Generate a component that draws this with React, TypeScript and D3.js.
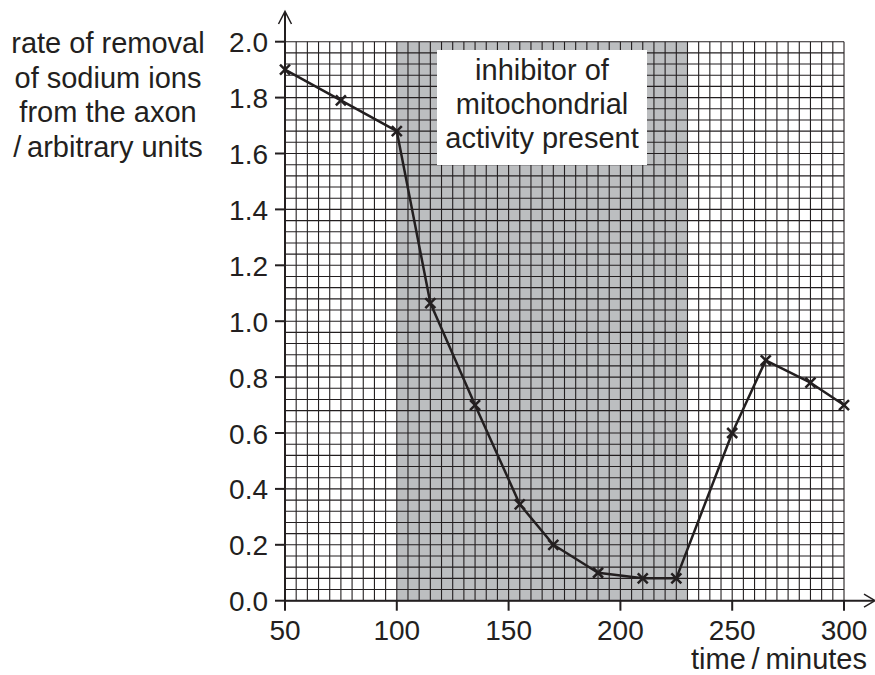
import React from "react";
import * as d3 from "d3";

const timeMin = [50, 75, 100, 115, 135, 155, 170, 190, 210, 225, 250, 265, 285, 300];
const rateValues = [1.9, 1.79, 1.68, 1.065, 0.7, 0.345, 0.2, 0.1, 0.08, 0.08, 0.6, 0.86, 0.78, 0.7];
const xTicks = [50, 100, 150, 200, 250, 300];
const yTicks = [0, 0.2, 0.4, 0.6, 0.8, 1.0, 1.2, 1.4, 1.6, 1.8, 2.0];
const inhibitorPeriod = [100, 230];
const noteLines = ["inhibitor of", "mitochondrial", "activity present"];
const yLabelLines = ["rate of removal", "of sodium ions", "from the axon", "/\u2009arbitrary units"];
const xLabel = "time\u2009/\u2009minutes";

const W = 875;
const H = 675;
const INK = "#231f20";
const FONT = "'Liberation Sans', Arial, Helvetica, sans-serif";

export default function App() {
  const x = d3.scaleLinear().domain([50, 300]).range([285, 844]);
  const y = d3.scaleLinear().domain([0, 2.0]).range([600.7, 41.7]);

  const xGrid = d3.range(50, 300.01, 5);
  const yGrid = d3.range(0, 50.5, 1).map((i) => i * 0.04);

  const line = d3
    .line<number>()
    .x((_, i) => x(timeMin[i]))
    .y((d) => y(d));

  const fs = 29;
  const tfs = 28;
  const m = 5;

  return (
    <svg
      width={W}
      height={H}
      style={{ position: "absolute", left: 0, top: 0, background: "#fff" }}
      fontFamily={FONT}
    >
      {/* shaded period */}
      <rect
        x={x(inhibitorPeriod[0])}
        y={y(2.0)}
        width={x(inhibitorPeriod[1]) - x(inhibitorPeriod[0])}
        height={y(0) - y(2.0)}
        fill="#bcbec0"
      />
      {/* grid */}
      <g stroke={INK} strokeWidth={1.1}>
        {xGrid.map((v) => (
          <line key={"gx" + v} x1={x(v)} x2={x(v)} y1={y(0)} y2={y(2.0)} />
        ))}
        {yGrid.map((v, i) => (
          <line key={"gy" + i} x1={x(50)} x2={x(300)} y1={y(v)} y2={y(v)} />
        ))}
      </g>
      {/* note box */}
      <rect x={437} y={50} width={210} height={115} fill="#fff" />
      <g fontSize={fs} fill={INK} textAnchor="middle">
        {noteLines.map((t, i) => (
          <text key={t} x={542} y={80 + i * 34}>
            {t}
          </text>
        ))}
      </g>
      {/* axes */}
      <g stroke={INK} strokeWidth={2} fill="none">
        <line x1={x(50)} x2={x(50)} y1={y(0)} y2={12} />
        <polyline points={`${x(50) - 6.5},24 ${x(50)},11.5 ${x(50) + 6.5},24`} strokeWidth={1.5} />
        <line x1={x(50)} x2={874} y1={y(0)} y2={y(0)} />
        <polyline points={`${864},${y(0) - 6.5} ${875},${y(0)} ${864},${y(0) + 6.5}`} strokeWidth={1.5} />
        {yTicks.map((v) => (
          <line key={"ty" + v} x1={x(50) - 10} x2={x(50)} y1={y(v)} y2={y(v)} />
        ))}
        {xTicks.map((v) => (
          <line key={"tx" + v} x1={x(v)} x2={x(v)} y1={y(0)} y2={y(0) + 10} />
        ))}
      </g>
      {/* tick labels */}
      <g fontSize={tfs} fill={INK}>
        {yTicks.map((v) => (
          <text key={"ly" + v} x={268} y={y(v) + 10.5} textAnchor="end">
            {v.toFixed(1)}
          </text>
        ))}
        {xTicks.map((v) => (
          <text key={"lx" + v} x={x(v)} y={640} textAnchor="middle">
            {v}
          </text>
        ))}
      </g>
      <g fontSize={fs} fill={INK}>
        <text x={779} y={669} textAnchor="middle">
          {xLabel}
        </text>
        {yLabelLines.map((t, i) => (
          <text key={t} x={108} y={53 + i * 34.5} textAnchor="middle">
            {t}
          </text>
        ))}
      </g>
      {/* data line */}
      <path d={line(rateValues) || ""} fill="none" stroke={INK} strokeWidth={2.5} strokeLinejoin="round" />
      <g stroke={INK} strokeWidth={2.5}>
        {rateValues.map((v, i) => {
          const cx = x(timeMin[i]);
          const cy = y(v);
          return (
            <g key={"m" + i}>
              <line x1={cx - m} y1={cy - m} x2={cx + m} y2={cy + m} />
              <line x1={cx - m} y1={cy + m} x2={cx + m} y2={cy - m} />
            </g>
          );
        })}
      </g>
    </svg>
  );
}
